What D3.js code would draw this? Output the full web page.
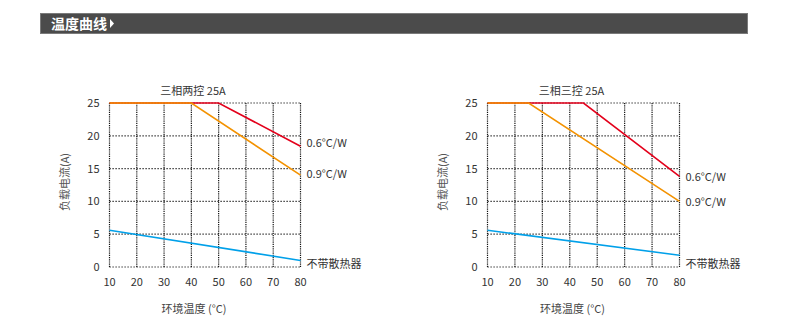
<!DOCTYPE html>
<html><head><meta charset="utf-8">
<script src="https://cdn.jsdelivr.net/npm/d3@7"></script>
<style>
body{margin:0;background:#fff;}
text{font-family:"Noto Sans CJK SC","Noto Sans",sans-serif;}
</style></head>
<body><svg id="c" width="790" height="333"></svg>
<script>
const xTicks = [10,20,30,40,50,60,70,80];
const yTicks = [0,5,10,15,20,25];
const headerTitle = "温度曲线";
const xAxisTitle = "环境温度 (°C)";
const yAxisTitle = "负载电流(A)";
const seriesLabels = ["0.6°C/W","0.9°C/W","不带散热器"];
const seriesColors = ["#e3001b","#f39200","#00a0e9"];

const chartTitles = ["三相两控 25A","三相三控 25A"];
// left chart series: [temp, current]
const leftRed = [[10,25],[50,25],[80,18.4]];
const leftOrange = [[10,25],[40,25],[80,14.0]];
const leftBlue = [[10,5.6],[80,1.0]];
// right chart series
const rightRed = [[10,25],[45,25],[80,13.8]];
const rightOrange = [[10,25],[25,25],[80,10.0]];
const rightBlue = [[10,5.6],[80,1.8]];

const svg = d3.select("#c");

// header bar
svg.append("rect").attr("x",40.5).attr("y",13.5).attr("width",707).attr("height",20)
  .attr("fill","#4b4b4b").attr("stroke","#7a7a7a").attr("stroke-width",1);
svg.append("text").attr("x",51).attr("y",29).attr("fill","#fff")
  .attr("font-size",14).attr("font-weight","bold").text(headerTitle);
svg.append("path").attr("d","M110,19 L114,23.5 L110,28 Z").attr("fill","#fff");

function drawChart(x0, x1, title, red, orange, blue, labelYs){
  const x = d3.scaleLinear().domain([10,80]).range([x0,x1]);
  const y = d3.scaleLinear().domain([0,25]).range([267,103]);
  const g = svg.append("g");
  // grid
  g.selectAll(".h").data(yTicks).enter().append("line")
    .attr("x1",x0).attr("x2",x1).attr("y1",d=>y(d)).attr("y2",d=>y(d))
    .attr("stroke","#111").attr("stroke-width",1.2).attr("stroke-dasharray","1.2,1.8");
  g.selectAll(".v").data(xTicks).enter().append("line")
    .attr("y1",y(0)).attr("y2",y(25)).attr("x1",d=>x(d)).attr("x2",d=>x(d))
    .attr("stroke","#111").attr("stroke-width",1.2).attr("stroke-dasharray","1.2,1");
  // tick labels
  g.selectAll(".yl").data(yTicks).enter().append("text")
    .attr("x",x0-10).attr("y",d=>y(d)+4).attr("text-anchor","end")
    .attr("font-size",11).attr("fill","#333").text(d=>d);
  g.selectAll(".xl").data(xTicks).enter().append("text")
    .attr("x",d=>x(d)).attr("y",286).attr("text-anchor","middle")
    .attr("font-size",11).attr("fill","#333").text(d=>d);
  // titles
  g.append("text").attr("x",(x0+x1)/2-12).attr("y",95).attr("text-anchor","middle")
    .attr("font-size",11).attr("fill","#333").text(title);
  g.append("text").attr("x",(x0+x1)/2-11).attr("y",313).attr("text-anchor","middle")
    .attr("font-size",11).attr("fill","#444").text(xAxisTitle);
  g.append("text").attr("transform",`translate(${x0-41},182) rotate(-90)`)
    .attr("text-anchor","middle").attr("font-size",11).attr("fill","#555").text(yAxisTitle);
  // lines
  const line = d3.line().x(d=>x(d[0])).y(d=>y(d[1]));
  [[red,0],[orange,1],[blue,2]].forEach(([s,i])=>{
    g.append("path").attr("d",line(s)).attr("fill","none")
      .attr("stroke",seriesColors[i]).attr("stroke-width",1.6);
  });
  // labels
  seriesLabels.forEach((t,i)=>{
    g.append("text").attr("x",x1+6).attr("y",labelYs[i]+4)
      .attr("font-size",11).attr("fill","#333").text(t);
  });
}
drawChart(109.5,300.5,chartTitles[0],leftRed,leftOrange,leftBlue,[143,174,264]);
drawChart(487.5,679.5,chartTitles[1],rightRed,rightOrange,rightBlue,[177,202,264]);
</script></body></html>
